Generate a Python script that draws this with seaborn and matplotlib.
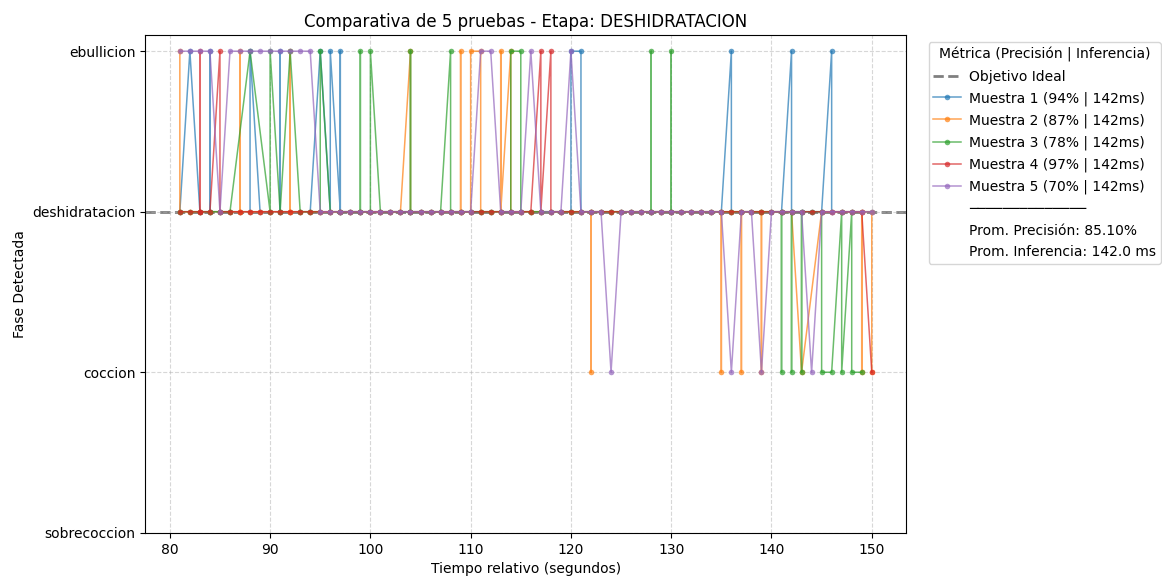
import matplotlib
matplotlib.use("Agg")
import matplotlib.pyplot as plt
from matplotlib.lines import Line2D
import seaborn as sns
import pandas as pd

# Fase labels (y categories, bottom to top)
fases = ["sobrecoccion", "coccion", "deshidratacion", "ebullicion"]
codigo = {"S": 0, "C": 1, "D": 2, "E": 3}

# seconds shown on the x axis
segundos = list(range(81, 151))

# readings per second for each sample ("-" = no reading that second)
m1 = ["D", "E", "D", "DED", "D", "D", "D", "DE", "D", "D",
      "DED", "D", "D", "D", "E", "DE", "DED", "D", "D", "D",
      "D", "D", "D", "D", "D", "D", "D", "D", "D", "D",
      "D", "D", "D", "D", "D", "D", "D", "D", "D", "DE",
      "ED", "D", "D", "D", "D", "D", "D", "D", "D", "D",
      "D", "D", "D", "D", "D", "ED", "D", "D", "D", "D",
      "D", "ED", "D", "D", "D", "ED", "D", "D", "D", "D"]
m2 = ["ED", "D", "D", "D", "D", "D", "DED", "D", "D", "D",
      "D", "DED", "D", "D", "D", "D", "D", "D", "D", "D",
      "D", "D", "D", "ED", "D", "D", "D", "D", "DED", "DE",
      "ED", "D", "DED", "ED", "D", "D", "D", "D", "D", "D",
      "D", "DCD", "D", "D", "D", "D", "D", "D", "D", "D",
      "D", "D", "D", "D", "DCD", "D", "DCD", "D", "DCD", "D",
      "D", "D", "C", "-", "D", "D", "D", "D", "DCD", "DC"]
m3 = ["D", "D", "D", "D", "D", "D", "-", "E", "-", "DE",
      "D", "E", "D", "D", "DE", "D", "D", "D", "DED", "DE",
      "D", "D", "D", "DED", "D", "D", "D", "ED", "D", "D",
      "D", "D", "D", "DE", "ED", "D", "D", "D", "D", "D",
      "D", "D", "D", "D", "D", "D", "D", "DED", "D", "DED",
      "D", "D", "D", "D", "D", "D", "D", "D", "D", "D",
      "DCD", "DCD", "DCD", "D", "DC", "C", "DC", "DC", "C", "-"]
m4 = ["D", "D", "DED", "D", "ED", "D", "D", "D", "D", "D",
      "D", "D", "D", "D", "D", "D", "D", "D", "D", "D",
      "D", "D", "D", "D", "D", "D", "D", "D", "D", "D",
      "D", "D", "D", "D", "D", "D", "ED", "ED", "D", "D",
      "D", "D", "D", "D", "D", "D", "D", "D", "D", "D",
      "D", "D", "D", "D", "D", "D", "D", "D", "D", "D",
      "D", "D", "D", "D", "D", "D", "D", "D", "D", "C"]
m5 = ["E", "E", "E", "E", "D", "E", "E", "E", "E", "E",
      "E", "E", "E", "E", "D", "D", "D", "D", "D", "D",
      "D", "D", "D", "D", "D", "D", "D", "D", "D", "D",
      "E", "E", "D", "D", "D", "E", "D", "D", "D", "E",
      "D", "D", "D", "C", "D", "D", "D", "D", "D", "D",
      "D", "D", "D", "D", "D", "C", "D", "D", "C", "D",
      "D", "D", "D", "C", "D", "D", "D", "D", "D", "D"]

precision = [94.3, 86.6, 78.0, 96.6, 70.0]
inferencia = [142.0, 142.0, 142.0, 142.0, 142.0]
colores = ["#1f77b4", "#ff7f0e", "#2ca02c", "#d62728", "#9467bd"]
muestras = [m1, m2, m3, m4, m5]


def expandir(tokens):
    xs, ys = [], []
    for t, tok in zip(segundos, tokens):
        if tok == "-":
            continue
        for ch in tok:
            xs.append(t)
            ys.append(codigo[ch])
    return pd.DataFrame({"t": xs, "fase": ys})


fig, ax = plt.subplots(figsize=(11.62, 5.76), dpi=100)
fig.subplots_adjust(left=0.125, right=0.78, top=0.939, bottom=0.075)

ax.axhline(codigo["D"], color="black", alpha=0.5, linestyle="--", linewidth=2,
           label="Objetivo Ideal", zorder=1)

for i, (tok, col) in enumerate(zip(muestras, colores)):
    df = expandir(tok)
    sns.lineplot(data=df, x="t", y="fase", sort=False, estimator=None,
                 marker="o", markersize=4, markeredgewidth=0, linewidth=1.1,
                 alpha=0.7, color=col, ax=ax,
                 label=f"Muestra {i+1} ({precision[i]:.0f}% | {inferencia[i]:.0f}ms)")

ax.set_yticks(range(len(fases)))
ax.set_yticklabels(fases)
ax.set_ylim(0, 3.1)
ax.grid(True, linestyle="--", alpha=0.5)
ax.set_title("Comparativa de 5 pruebas - Etapa: DESHIDRATACION")
ax.set_xlabel("Tiempo relativo (segundos)")
ax.set_ylabel("Fase Detectada")

prom_p = sum(precision) / len(precision)
prom_i = sum(inferencia) / len(inferencia)
handles, labels = ax.get_legend_handles_labels()
extra = ["\u2500" * 14, f"Prom. Precisión: {prom_p:.2f}%",
         f"Prom. Inferencia: {prom_i:.1f} ms"]
for lab in extra:
    handles.append(Line2D([], [], color="none"))
    labels.append(lab)
ax.legend(handles, labels, title="Métrica (Precisión | Inferencia)",
          bbox_to_anchor=(1.02, 1), loc="upper left", borderaxespad=0.5,
          handletextpad=0.55, borderpad=0.35, labelspacing=0.55)

fig.savefig("out.png", dpi=100)
